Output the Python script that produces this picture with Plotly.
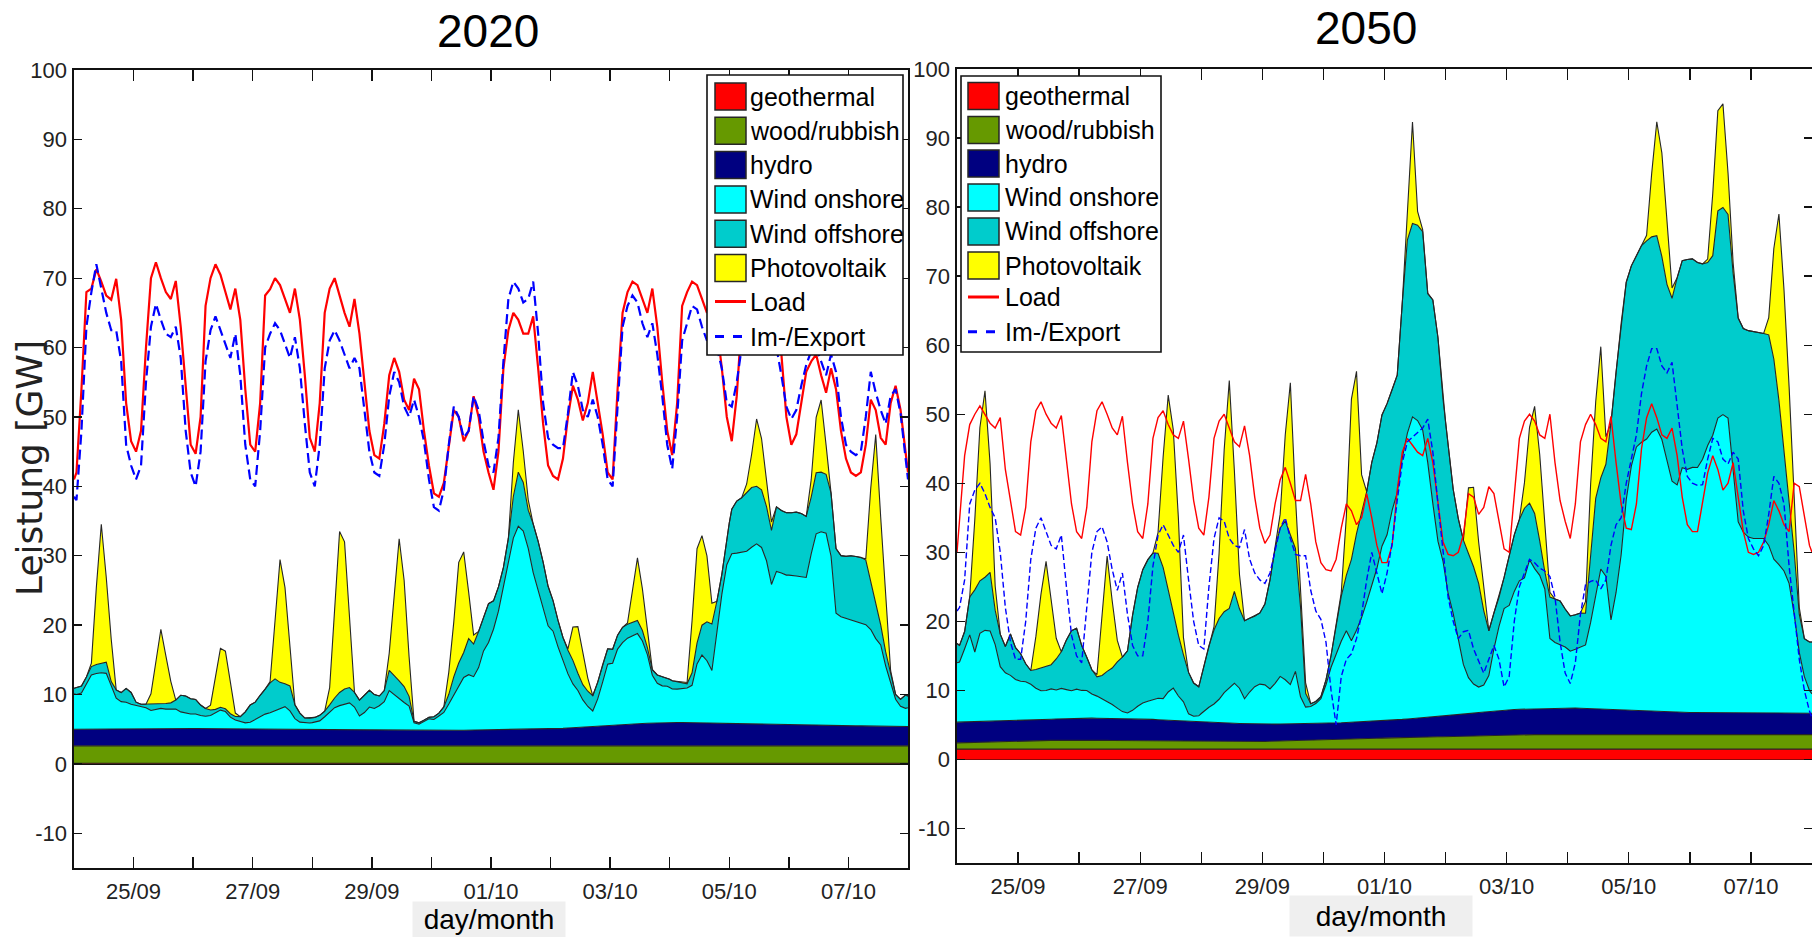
import plotly.graph_objects as go
from datetime import datetime, timedelta

FIG_W, FIG_H = 1812, 937

# ---------------- time grid (hours after 24/09 00:00) ----------------
hours = [0] + list(range(1, 336, 2)) + [336]          # 170 samples
base_hours = list(range(0, 337, 24))                   # 15 daily samples
day_ticks = list(range(15))
tick_text = ["", "25/09", "", "27/09", "", "29/09", "", "01/10", "",
             "03/10", "", "05/10", "", "07/10", ""]
y_ticks = [-10, 0, 10, 20, 30, 40, 50, 60, 70, 80, 90, 100]

# ---------------- 2020 ----------------
geo20 = [0.1, 0.1, 0.1, 0.1, 0.1, 0.1, 0.1, 0.1, 0.1, 0.1, 0.1, 0.1, 0.1, 0.1, 0.1]
wood20 = [2.5, 2.5, 2.5, 2.5, 2.5, 2.5, 2.5, 2.5, 2.5, 2.5, 2.5, 2.5, 2.5, 2.5, 2.5]
hydro20 = [2.4, 2.5, 2.5, 2.4, 2.3, 2.3, 2.2, 2.3, 2.4, 3.0, 3.4, 3.2, 3.0, 2.9, 2.8]

on20 = [5.1,
    5.0, 5.2, 6.5, 7.8, 8.0, 8.1, 8.0, 6.3, 4.4, 3.9, 3.8, 3.5,
    3.3, 3.2, 3.0, 2.6, 2.8, 2.9, 2.8, 2.8, 2.8, 2.4, 2.2, 2.1,
    2.1, 1.9, 1.8, 1.9, 2.3, 2.7, 2.5, 1.7, 1.3, 1.1, 0.9, 1.0,
    1.4, 1.8, 2.2, 2.4, 2.7, 3.0, 3.3, 2.7, 1.6, 1.1, 1.0, 1.0,
    1.1, 1.3, 1.9, 2.5, 3.2, 3.5, 3.7, 3.9, 3.3, 2.0, 2.5, 3.3,
    3.1, 3.5, 4.1, 5.7, 5.1, 4.5, 4.0, 3.5, 1.1, 0.9, 1.3, 1.7,
    1.6, 2.1, 2.6, 3.8, 5.0, 6.2, 7.6, 8.0, 7.7, 9.0, 11.4, 12.6,
    14.5, 17.1, 20.4, 24.1, 27.6, 29.3, 28.6, 26.1, 22.6, 20.1, 17.7, 14.9,
    14.1, 11.8, 9.7, 7.8, 6.3, 5.3, 3.9, 2.9, 2.2, 3.9, 6.3, 8.8,
    8.9, 10.9, 11.8, 12.4, 12.7, 13.0, 11.9, 9.9, 6.9, 5.7, 5.3, 5.2,
    4.8, 4.8, 4.9, 5.0, 5.4, 8.5, 9.8, 9.0, 7.6, 13.5, 18.6, 22.9,
    24.5, 24.6, 24.8, 24.9, 25.5, 26.0, 25.5, 23.6, 20.2, 22.1, 21.9, 21.6,
    21.6, 21.5, 21.4, 21.3, 24.7, 27.6, 27.9, 27.7, 24.4, 16.2, 15.7, 15.5,
    15.3, 15.1, 14.8, 14.6, 13.9, 12.6, 11.7, 8.7, 6.3, 3.9, 2.9, 2.6,
    2.7]

off20 = [0.8,
    1.0, 1.0, 1.0, 1.2, 1.3, 1.4, 1.6, 0.5, 1.2, 1.3, 2.0, 1.7,
    0.5, 0.3, 0.5, 0.9, 0.7, 0.6, 0.8, 0.9, 1.3, 2.4, 2.5, 2.2,
    2.1, 1.5, 1.1, 0.8, 0.5, 0.4, 0.4, 0.5, 0.5, 0.7, 1.6, 2.5,
    2.5, 3.1, 3.6, 4.3, 4.6, 3.8, 3.3, 3.6, 2.0, 1.3, 0.7, 0.7,
    0.7, 0.8, 0.8, 1.1, 1.4, 1.9, 2.2, 2.2, 2.1, 2.3, 2.5, 2.4,
    2.0, 1.4, 1.6, 2.9, 2.8, 2.6, 2.3, 1.4, 0.2, 0.2, 0.2, 0.2,
    0.4, 0.4, 0.8, 1.4, 2.7, 3.5, 3.6, 5.2, 4.7, 5.2, 4.8, 5.6,
    4.1, 3.5, 3.0, 3.5, 6.0, 7.8, 7.0, 5.5, 7.0, 7.0, 6.4, 5.7,
    4.4, 3.8, 3.4, 3.4, 3.4, 2.5, 2.2, 2.2, 2.2, 2.4, 2.5, 2.2,
    2.0, 2.0, 2.2, 2.0, 2.0, 1.9, 1.5, 1.0, 0.8, 1.2, 1.3, 1.2,
    1.2, 1.1, 0.9, 0.6, 1.8, 3.0, 4.3, 5.6, 6.7, 4.1, 2.9, 4.1,
    6.4, 7.5, 7.8, 8.5, 8.6, 8.3, 8.3, 7.8, 7.8, 9.3, 9.0, 9.0,
    9.0, 9.2, 9.1, 8.8, 8.2, 8.8, 8.6, 8.5, 9.1, 9.3, 8.8, 8.9,
    9.2, 9.3, 9.5, 9.3, 7.0, 4.9, 2.9, 2.0, 1.5, 0.7, 1.0, 1.9,
    1.7]

pv20 = [0.0,
    0, 0, 0, 0.5, 11.1, 20.0, 12.2, 6.1, 0, 0, 0, 0,
    0, 0, 0, 1.5, 6.2, 10.8, 6.9, 3.1, 0, 0, 0, 0,
    0, 0, 0, 0.7, 4.8, 8.5, 8.3, 4.7, 0.5, 0, 0, 0,
    0, 0, 0, 0.2, 7.9, 17.7, 13.9, 5.8, 0, 0, 0, 0,
    0, 0, 0, 2.5, 13.0, 23.2, 21.2, 9.6, 0, 0, 0, 0,
    0, 0, 0, 2.5, 11.2, 20.5, 15.3, 5.7, 0, 0, 0, 0,
    0, 0, 0, 3.2, 7.9, 14.5, 14.5, 6.7, 1.3, 0, 0, 0,
    0, 0, 0, 0, 4.9, 9.0, 4.5, 1.5, 0, 0, 0, 0,
    0, 0, 0, 0.2, 4.8, 6.7, 4.6, 1.9, 0, 0, 0, 0,
    0, 0, 0, 0.2, 4.8, 9.0, 6.0, 2.3, 0, 0, 0, 0,
    0, 0, 0, 0.2, 7.5, 13.6, 12.9, 9.5, 3.0, 0, 0, 0,
    0, 0, 0, 1.2, 4.8, 9.7, 7.4, 4.1, 1.2, 0, 0, 0,
    0, 0, 0, 0, 2.5, 8.0, 10.4, 4.2, 0, 0, 0, 0,
    0, 0, 0, 0.2, 13.4, 24.5, 15.5, 7.8, 0.2, 0, 0, 0,
    0.0]

load20 = [41,
    42, 54, 68, 68.5, 71.3, 69.5, 67.5, 66.9, 69.9, 64, 52, 46.5,
    45, 48, 60, 70, 72.3, 70, 68, 67, 69.6, 63, 55, 46,
    44.7, 50, 66, 70, 72, 70.5, 68, 65.5, 68.5, 64, 54, 46,
    45, 52, 67.5, 68.4, 70, 69, 67, 65, 68.5, 64, 56, 47,
    45, 52, 65, 68.5, 70, 67.5, 65, 63, 67, 62, 55, 48,
    44.5, 44, 49, 56, 58.5, 56.5, 52.5, 51, 55.5, 54, 48, 43,
    39, 38.5, 40.5, 46, 51, 50, 46.5, 48, 53, 50, 45, 42,
    39.5, 45, 57, 62.5, 65, 64, 62, 62, 64.5, 57, 49, 43,
    41.5, 41, 44, 50, 54.5, 52.5, 49.5, 52, 56.5, 52, 47.5, 42,
    41, 54, 65, 68, 69.5, 69, 67, 65, 68.5, 63, 55, 48,
    44.5, 52, 66, 68, 69.5, 69, 67, 65, 68, 63, 57, 50,
    46.5, 53, 64, 69, 70, 68, 66, 64, 67, 63, 59, 50,
    46, 47.5, 52, 56.5, 58, 59, 56, 53.5, 57, 54, 48, 44,
    42, 41.5, 42, 46, 52.5, 51, 47, 46, 52, 54.5, 51, 45,
    42]

exp20 = [38.5,
    38, 48, 63, 68, 72, 68.5, 65, 62.5, 62.5, 58, 46, 43,
    41, 43, 55, 63, 66.3, 64, 62, 61.5, 63, 58.5, 48, 42,
    40, 45, 58, 62.5, 64.5, 62.5, 60.5, 58.5, 62, 56, 46, 41,
    40, 48, 60, 62, 63.5, 62.5, 60.5, 58.5, 61.5, 57, 49, 42,
    40, 46, 57, 61, 62.5, 61, 59, 57, 58.5, 57, 51, 45,
    42, 41.5, 46, 53, 56.5, 55, 51.5, 50, 52.5, 50, 46.5, 41,
    37, 36.5, 39.5, 46, 51.5, 50, 47, 48, 53, 51, 46.5, 43,
    42, 47, 58, 67, 69.5, 68.5, 66.5, 67, 69.5, 62, 52, 47,
    46, 45.5, 45.5, 50.5, 56.5, 54.5, 51, 50, 52.5, 50, 46, 41,
    40, 52, 63, 66, 67.5, 66.5, 63.5, 61.5, 63.5, 59, 53, 46,
    42.5, 50, 61, 63.5, 66, 65.5, 63, 61, 62, 60, 57, 52,
    51.5, 55, 60, 64, 66, 64, 62, 60, 62, 60, 56, 51.5,
    49.7, 51, 54.5, 57.5, 59.5, 60, 58, 56, 59, 56.5, 50, 46,
    45, 44.5, 45, 50, 56.5, 53.5, 51, 49, 53, 54, 50.5, 44,
    41]

# ---------------- 2050 ----------------
geo50 = [1.5, 1.5, 1.5, 1.5, 1.5, 1.5, 1.5, 1.5, 1.5, 1.5, 1.5, 1.5, 1.5, 1.5, 1.5]
wood50 = [0.9, 1.2, 1.3, 1.2, 1.1, 1.1, 1.3, 1.6, 1.8, 2.1, 2.1, 2.1, 2.1, 2.1, 2.1]
hydro50 = [3.0, 2.9, 3.2, 3.2, 2.8, 2.5, 2.4, 2.5, 3.0, 3.6, 3.9, 3.5, 3.2, 3.1, 3.1]

on50 = [8.6,
    8.7, 10.6, 12.6, 10.1, 12.8, 13.2, 13.1, 11.1, 7.9, 7.0, 6.6, 6.0,
    5.7, 5.6, 5.2, 4.6, 4.2, 4.2, 4.4, 4.2, 4.4, 4.2, 4.0, 4.2,
    4.0, 4.0, 3.5, 3.2, 2.8, 2.5, 2.0, 1.5, 1.0, 0.8, 1.2, 1.8,
    2.3, 2.6, 2.9, 3.1, 3.1, 4.1, 4.7, 3.6, 2.8, 1.1, 0.8, 0.9,
    1.6, 2.2, 2.7, 3.4, 4.4, 5.1, 5.8, 5.1, 3.6, 4.6, 5.4, 5.8,
    5.7, 5.1, 5.9, 6.9, 6.4, 5.7, 7.6, 3.9, 2.4, 2.5, 2.9, 3.6,
    5.6, 8.1, 10.0, 11.8, 13.3, 11.8, 13.3, 15.1, 17.3, 19.8, 22.1, 25.3,
    26.9, 30.4, 32.9, 37.9, 41.4, 43.7, 43.1, 41.7, 36.9, 30.9, 25.4, 22.4,
    17.7, 14.7, 10.7, 7.2, 5.2, 4.2, 3.7, 3.9, 5.2, 9.0, 12.2, 14.7,
    15.1, 17.1, 18.6, 19.0, 21.6, 20.3, 19.3, 17.3, 10.1, 9.5, 9.2, 8.8,
    8.2, 8.5, 8.9, 9.2, 12.5, 16.7, 20.3, 19.3, 13.0, 17.0, 22.5, 30.5,
    35.4, 38.2, 38.9, 39.4, 40.4, 40.9, 39.4, 36.4, 33.4, 32.9, 35.4, 35.2,
    35.5, 35.5, 36.7, 38.7, 40.2, 42.7, 43.2, 42.7, 35.2, 27.7, 26.2, 25.5,
    25.3, 25.3, 25.3, 24.3, 22.3, 21.5, 20.6, 18.8, 14.3, 8.8, 5.3, 3.3,
    2.8]

off50 = [2.8,
    2.4, 2.5, 5.5, 9.0, 7.6, 7.7, 8.5, 5.0, 4.7, 3.8, 6.0, 4.6,
    4.0, 2.6, 2.0, 2.7, 3.3, 3.5, 3.5, 4.5, 5.3, 7.2, 8.7, 8.8,
    6.5, 4.8, 3.5, 2.8, 3.4, 4.3, 5.3, 6.7, 7.9, 9.0, 13.8, 17.2,
    19.3, 20.5, 21.2, 21.0, 19.0, 14.8, 10.9, 8.8, 6.8, 6.0, 4.8, 4.2,
    6.5, 8.9, 10.7, 11.7, 11.7, 11.5, 13.3, 11.5, 11.3, 10.7, 10.2, 10.3,
    11.7, 15.8, 19.5, 21.5, 23.0, 21.7, 17.8, 13.0, 2.0, 0.4, 0.3, 0.3,
    0.7, 1.7, 4.3, 6.5, 8.0, 11.8, 14.0, 15.2, 16.0, 17.7, 18.2, 19.0,
    19.0, 17.5, 17.0, 22.5, 28.0, 28.0, 28.3, 28.7, 24.5, 29.5, 29.5, 23.5,
    21.5, 18.0, 17.7, 18.0, 18.0, 17.0, 15.0, 10.8, 6.5, 5.2, 4.2, 4.5,
    7.2, 8.2, 8.9, 10.1, 8.2, 8.0, 5.0, 2.5, 6.0, 6.3, 6.3, 5.5,
    5.1, 5.0, 4.9, 4.6, 10.0, 13.8, 13.2, 16.2, 28.5, 32.0, 33.5, 31.5,
    29.0, 27.7, 28.5, 28.7, 28.3, 28.0, 26.5, 25.5, 26.5, 30.0, 30.0, 30.4,
    30.2, 29.7, 28.3, 26.5, 26.0, 30.0, 30.0, 29.5, 28.5, 29.5, 29.5, 29.9,
    30.0, 29.8, 29.7, 30.5, 29.0, 23.8, 17.7, 12.5, 9.0, 5.5, 5.5, 7.0,
    7.5]

pv50 = [0.0,
    0, 0, 0, 10.2, 22.2, 27.0, 15.7, 3.5, 0, 0, 0, 0,
    0, 0, 0, 4.8, 10.7, 15.2, 9.2, 3.0, 0, 0, 0, 0,
    0, 0, 0, 0.3, 8.6, 16.7, 9.7, 3.1, 0, 0, 0, 0,
    0, 0, 0, 3.0, 16.0, 28.2, 26.5, 17.0, 2.5, 0, 0, 0,
    0, 0, 0.5, 9.5, 23.5, 33.0, 17.5, 5.0, 0, 0, 0, 0,
    0, 0, 0, 2.0, 12.5, 22.0, 7.5, 3.0, 1.5, 0, 0, 0,
    0, 0, 0, 0.5, 8.5, 23.2, 23.5, 5.5, 0, 0, 0, 0,
    0, 0, 0, 0, 5.0, 14.7, 2.0, 0.3, 0, 0, 0, 0,
    0, 0, 0, 0, 9.5, 11.5, 6.0, 3.5, 0, 0, 0, 0,
    0, 0, 0, 3.7, 11.0, 15.5, 12.5, 7.5, 0.7, 0, 0, 0,
    0, 0, 0, 1.7, 10.0, 14.0, 19.0, 4.0, 0, 0, 0, 0,
    0, 0, 0, 0.8, 9.2, 16.5, 15.0, 9.0, 1.5, 0, 0, 0,
    0, 0, 0, 0.5, 9.0, 14.5, 15.0, 6.0, 1.5, 0, 0, 0,
    0, 0, 0, 2.5, 16.0, 27.0, 23.0, 16.0, 8.0, 1.0, 0, 0,
    0.0]

load50 = [30,
    35, 44, 48.5, 50, 51.2, 50, 48.7, 48, 49.5, 42, 37.5, 33,
    32.5, 36.5, 46, 50.5, 51.8, 50, 48.7, 48, 49.8, 43, 37, 33,
    32, 36.5, 46, 50.5, 51.8, 50, 48, 47, 49.7, 43, 37, 33,
    32, 37, 46.5, 49.5, 50.5, 48.5, 47, 46.5, 49, 43.5, 37.5, 33.5,
    32.5, 38, 46.5, 49, 50, 48, 46, 45.3, 48.3, 44, 38, 33.5,
    31.3, 32.5, 37, 40.5, 42.3, 40, 37.5, 37.5, 41.3, 37, 31.5, 28.5,
    27.5, 27.3, 29, 33.5, 37, 36, 34, 35, 38.5, 35, 31, 28.5,
    28.5, 31, 39, 44.5, 46.5, 45.5, 44.5, 44, 46.5, 43, 37, 31.5,
    29.7, 29.5, 30, 32.5, 38.5, 38, 35.5, 36.5, 39.5, 38.5, 34.5, 30.5,
    30, 38, 46.5, 49, 50, 49, 47, 46.5, 50, 43, 37.5, 34.5,
    32, 37, 46, 48.5, 50, 48.5, 46.5, 46, 49.7, 43, 37, 33.5,
    33.3, 37, 45, 49.5, 51.5, 49.5, 47, 46.5, 48, 44, 38, 34,
    33, 33, 37, 41.5, 44, 42, 39, 40, 43, 38, 33, 30,
    29.7, 30, 31.5, 34, 37.5, 36, 34, 33, 40, 39.5, 35, 31,
    30]

exp50 = [21.5,
    22, 26, 37, 39, 40, 38.5, 36.5, 35, 30, 22, 17, 14.5,
    14.5, 20, 29, 33.5, 35, 33, 31, 30.5, 32.5, 25, 18, 15,
    14, 22, 30, 33, 33.7, 31.5, 27.5, 24.5, 27, 21, 16.5, 15,
    15, 20, 28, 32.5, 34, 32.5, 31, 30, 32.5, 26, 20, 16.5,
    16, 25, 32, 35, 34.5, 32, 31, 30.7, 33.3, 29, 27, 26,
    25.5, 27, 30.5, 33.5, 35, 32, 29.7, 29.5, 29.5, 24.5, 21.5, 20.3,
    17, 10, 5, 12, 14.5, 15.3, 17.5, 21, 26, 30, 27, 24,
    27, 31.3, 37.5, 43, 46, 46.7, 47.3, 48, 49.3, 44.5, 37, 30,
    23.5, 20, 17.5, 18.5, 18.7, 16, 14.2, 12.5, 14.5, 16.5, 14.5, 10.5,
    12, 20, 25, 27, 29, 28.5, 27.7, 27.3, 26.5, 23.5, 17, 12.5,
    11, 14, 21, 25.3, 25.8, 26, 24.7, 26, 31, 34, 35, 40,
    43.5, 47, 53, 57, 59.5, 59.5, 57, 56, 57.5, 51, 45, 41,
    40, 39.7, 39.8, 43.5, 46.5, 46, 43.5, 42.8, 44.5, 43.5, 36, 32,
    30.5, 29.5, 31, 35.5, 41, 40, 37, 28, 21, 14.5, 10, 7,
    6]

for arr in (on20, off20, pv20, load20, exp20, on50, off50, pv50, load50, exp50):
    assert len(arr) == len(hours), len(arr)

source_names = ["geothermal", "wood/rubbish", "hydro", "Wind onshore", "Wind offshore", "Photovoltaik"]
source_colors = ["#FF0000", "#669900", "#000080", "#00FFFF", "#00CCCC", "#FFFF00"]
line_names = ["Load", "Im-/Export"]
line_colors = ["#FF0000", "#0000FF"]

FONT = "Liberation Sans, Arial, sans-serif"


def pxx(v):
    return v / FIG_W


def pxy(v):
    return 1 - v / FIG_H


charts = [
    dict(year=2020, xa="x", ya="y", sg="s2020", base=[geo20, wood20, hydro20],
         parts=[on20, off20, pv20], load=load20, exp=exp20, lw=2.2, dash="10px,5px",
         xdom=[pxx(74), pxx(908)], ydom=[pxy(868), pxy(70)]),
    dict(year=2050, xa="x2", ya="y2", sg="s2050", base=[geo50, wood50, hydro50],
         parts=[on50, off50, pv50], load=load50, exp=exp50, lw=1.4, dash="6px,3px",
         xdom=[pxx(957), 1.0], ydom=[pxy(863), pxy(69)]),
]

fig = go.Figure()
layout_axes = {}
for i, c in enumerate(charts):
    t0 = datetime(c["year"], 9, 24)
    tb = [t0 + timedelta(hours=h) for h in base_hours]
    th = [t0 + timedelta(hours=h) for h in hours]
    xs_list = [tb, tb, tb, th, th, th]
    ys_list = c["base"] + c["parts"]
    for xs, ys, name, col in zip(xs_list, ys_list, source_names, source_colors):
        fig.add_trace(go.Scatter(
            x=xs, y=ys, name=name, mode="lines", stackgroup=c["sg"], stackgaps="interpolate",
            fillcolor=col, line=dict(color="#262626", width=1.1),
            xaxis=c["xa"], yaxis=c["ya"], showlegend=False))
    fig.add_trace(go.Scatter(x=th, y=c["load"], name="Load", mode="lines",
                             line=dict(color="#FF0000", width=c["lw"]),
                             xaxis=c["xa"], yaxis=c["ya"], showlegend=False))
    fig.add_trace(go.Scatter(x=th, y=c["exp"], name="Im-/Export", mode="lines",
                             line=dict(color="#0000FF", width=c["lw"], dash=c["dash"]),
                             xaxis=c["xa"], yaxis=c["ya"], showlegend=False))
    sfx = "" if i == 0 else "2"
    layout_axes["xaxis" + sfx] = dict(
        domain=c["xdom"], anchor="y" + sfx, type="date", automargin=False,
        range=[t0, t0 + timedelta(days=14)],
        tickmode="array", tickvals=[t0 + timedelta(days=d) for d in day_ticks], ticktext=tick_text,
        ticks="inside", ticklen=11, tickwidth=1.3, tickcolor="#111",
        showline=True, linecolor="#111", linewidth=1.6, mirror="ticks",
        showgrid=False, zeroline=False, ticklabelstandoff=3,
        tickfont=dict(family=FONT, size=22, color="#222"))
    layout_axes["yaxis" + sfx] = dict(
        domain=c["ydom"], anchor="x" + sfx, range=[-15, 100], automargin=False,
        tickmode="array", tickvals=y_ticks, ticktext=[str(v) for v in y_ticks],
        ticks="inside", ticklen=8, tickwidth=1.3, tickcolor="#111",
        showline=True, linecolor="#111", linewidth=1.6, mirror="ticks",
        showgrid=False, zeroline=True, zerolinecolor="#111", zerolinewidth=1.6,
        ticklabelstandoff=1,
        tickfont=dict(family=FONT, size=22, color="#222"))

shapes = []
annotations = []


def add_legend(box, sw, tx, centers, lw, dash):
    x0, y0, x1, y1 = box
    shapes.append(dict(type="rect", xref="paper", yref="paper",
                       x0=pxx(x0), x1=pxx(x1), y0=pxy(y1), y1=pxy(y0),
                       line=dict(color="#111", width=1.6), fillcolor="white", layer="above"))
    names = source_names + line_names
    for k, (name, yc) in enumerate(zip(names, centers)):
        if k < len(source_names):
            shapes.append(dict(type="rect", xref="paper", yref="paper",
                               x0=pxx(sw[0]), x1=pxx(sw[1]), y0=pxy(yc + 13.5), y1=pxy(yc - 13.5),
                               line=dict(color="#262626", width=1.5), fillcolor=source_colors[k],
                               layer="above"))
        else:
            col = line_colors[k - len(source_names)]
            shapes.append(dict(type="line", xref="paper", yref="paper",
                               x0=pxx(sw[0]), x1=pxx(sw[1]), y0=pxy(yc), y1=pxy(yc),
                               line=dict(color=col, width=lw,
                                         dash="solid" if k == len(source_names) else dash),
                               layer="above"))
        annotations.append(dict(xref="paper", yref="paper", x=pxx(tx), y=pxy(yc),
                                xanchor="left", yanchor="middle", showarrow=False, text=name,
                                font=dict(family=FONT, size=25, color="#000")))


add_legend((707, 75, 903, 355), (715, 746), 748,
           [96.5, 130.8, 165.1, 199.4, 233.7, 268.0, 301.5, 336.6], 3, "dash")
add_legend((961, 76, 1161, 352), (968, 999), 1003,
           [96, 130, 163.5, 197.5, 231.5, 265.5, 297, 331.7], 3, "dash")

# titles
annotations.append(dict(xref="paper", yref="paper", x=pxx(488), y=pxy(31), text="2020",
                        showarrow=False, xanchor="center", yanchor="middle",
                        font=dict(family=FONT, size=46, color="#000")))
annotations.append(dict(xref="paper", yref="paper", x=pxx(1366), y=pxy(28), text="2050",
                        showarrow=False, xanchor="center", yanchor="middle",
                        font=dict(family=FONT, size=46, color="#000")))
# y-axis title
annotations.append(dict(xref="paper", yref="paper", x=pxx(29), y=pxy(468), text="Leistung [GW]",
                        showarrow=False, xanchor="center", yanchor="middle", textangle=-90,
                        font=dict(family="DejaVu Sans, Liberation Sans, sans-serif", size=36,
                                  color="#222")))
# x-axis titles with grey background
annotations.append(dict(xref="paper", yref="paper", x=pxx(489), y=pxy(919), text="day/month",
                        showarrow=False, xanchor="center", yanchor="middle",
                        width=150, height=33, bgcolor="#EFEFEF",
                        font=dict(family=FONT, size=28, color="#000")))
annotations.append(dict(xref="paper", yref="paper", x=pxx(1381), y=pxy(916), text="day/month",
                        showarrow=False, xanchor="center", yanchor="middle",
                        width=180, height=38, bgcolor="#EFEFEF",
                        font=dict(family=FONT, size=28, color="#000")))

fig.update_layout(
    template="none",
    width=FIG_W, height=FIG_H,
    margin=dict(l=0, r=0, t=0, b=0, autoexpand=False),
    paper_bgcolor="white", plot_bgcolor="white",
    showlegend=False,
    shapes=shapes, annotations=annotations,
    **layout_axes)

fig.write_html("out.html",
               config={"displayModeBar": False, "staticPlot": True},
               post_script="document.body.style.margin='0';document.body.style.overflow='hidden';")
